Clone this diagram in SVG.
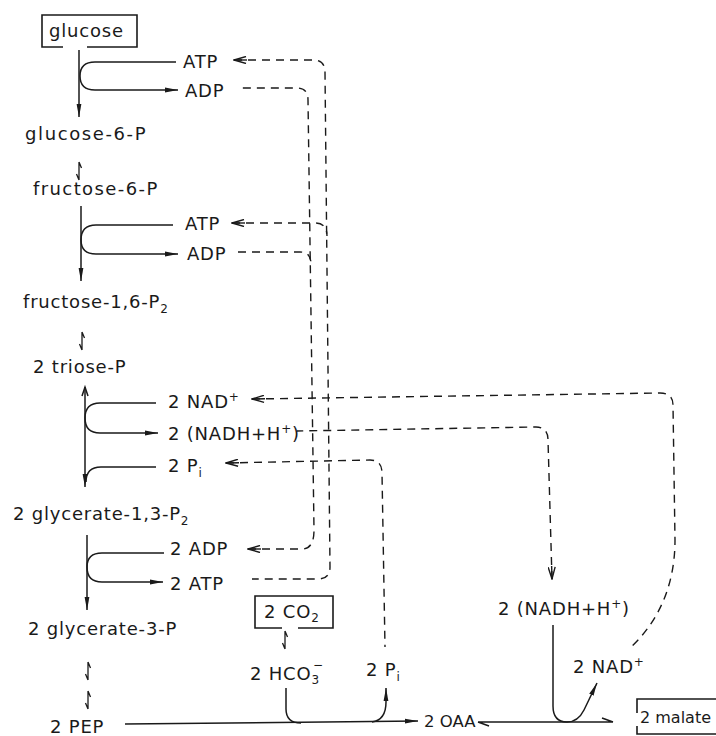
<svg xmlns="http://www.w3.org/2000/svg" width="716" height="736" viewBox="0 0 716 736">
<style>
text{font-family:"DejaVu Sans","Liberation Sans",sans-serif;font-size:18px;fill:#1a1a1a;letter-spacing:0.8px}
.s{fill:none;stroke:#1a1a1a;stroke-width:1.5}
.d{fill:none;stroke:#1a1a1a;stroke-width:1.4;stroke-dasharray:8 6}
.box{fill:none;stroke:#1a1a1a;stroke-width:1.6}
.sub{font-size:12px}
</style>
<defs>
<marker id="ah" viewBox="0 0 13 6" refX="13" refY="3" markerWidth="13" markerHeight="6" markerUnits="userSpaceOnUse" orient="auto"><path d="M0,0.6 L13,3 L0,5.4 z" fill="#1a1a1a"/></marker>
<marker id="oh" viewBox="0 0 14 8" refX="13" refY="4" markerWidth="14" markerHeight="8" markerUnits="userSpaceOnUse" orient="auto-start-reverse"><path d="M1,0.5 L13,4 L1,7.5" fill="none" stroke="#1a1a1a" stroke-width="1.4"/><path d="M13,4 H0" stroke="#1a1a1a" stroke-width="1.4"/></marker>
<path id="eq" d="M0,-9 V9 M0,9 L-2.5,3 M0,-9 L2.5,-3" fill="none" stroke="#1a1a1a" stroke-width="1.3"/>
</defs>

<g id="connectors">
  <!-- glucose -> glucose-6-P -->
  <path class="s" d="M79,50 V117" marker-end="url(#ah)"/>
  <path class="s" d="M176,62 H95 Q80,62 80,76 Q80,90 95,90 H178" marker-end="url(#ah)"/>
  <use href="#eq" x="79" y="171"/>
  <!-- fructose-6-P -> fructose-1,6-P2 -->
  <path class="s" d="M81,206 V281" marker-end="url(#ah)"/>
  <path class="s" d="M173,225 H96 Q81,225 81,240 Q81,254 96,254 H178" marker-end="url(#ah)"/>
  <use href="#eq" x="82" y="341"/>
  <!-- triose-P <-> glycerate-1,3-P2 -->
  <path class="s" d="M85,387 V487" marker-end="url(#ah)"/>
  <path class="s" d="M82,396 L85,387 L88,396"/>
  <path class="s" d="M156,403 H100 Q85,403 85,418 Q85,433 100,433 H158" marker-end="url(#ah)"/>
  <path class="s" d="M156,467 H101 Q86,467 86,482"/>
  <!-- glycerate-1,3-P2 -> glycerate-3-P -->
  <path class="s" d="M87,535 V610" marker-end="url(#ah)"/>
  <path class="s" d="M164,553 H102 Q87,553 87,567 Q87,582 102,582 H163" marker-end="url(#ah)"/>
  <use href="#eq" x="88" y="671"/>
  <use href="#eq" x="88" y="700"/>
  <use href="#eq" x="285" y="640"/>
  <!-- PEP -> OAA -->
  <path class="s" d="M125,724 L418,721" marker-end="url(#ah)"/>
  <path class="s" d="M286,688 V709 Q286,723 301,723"/>
  <path class="s" d="M372,722 Q386,720 386,702 V688" marker-end="url(#ah)"/>
  <!-- OAA <-> malate -->
  <path class="s" d="M478,722 H613 M478,722 L489,726 M613,722 L602,718"/>
  <path class="s" d="M553,625 V706 Q553,722 567,722 Q578,722 584,710 L597,683" marker-end="url(#ah)"/>

  <!-- dashed: 2 ATP -> ATP (top) -->
  <path class="d" d="M234,60 H313 Q325,60 325,72 L330,567 Q330,579 318,579 H252" marker-start="url(#oh)"/>
  <path class="d" d="M232,223 H315 Q327,223 327,236" marker-start="url(#oh)"/>
  <!-- dashed: ADP -> 2 ADP -->
  <path class="d" d="M248,549 H302 Q314,549 314,530 L308,100 Q308,88 297,88 H237" marker-start="url(#oh)"/>
  <path class="d" d="M238,252 H300 Q311,252 311,264"/>
  <!-- dashed: NAD+ -->
  <path class="d" d="M252,399 L660,393 Q673,393 673,405 L675,540 C675,590 655,625 630,648" marker-start="url(#oh)"/>
  <!-- dashed: NADH -->
  <path class="d" d="M552,579 L548,440 Q548,427 536,427 L297,431" marker-start="url(#oh)"/>
  <!-- dashed: Pi -->
  <path class="d" d="M226,463 L370,460 Q382,460 382,473 L385,647" marker-start="url(#oh)"/>
</g>

<g id="glucose">
  <path class="box" d="M63,47 H42 V15 H137 V47 H87"/>
  <text x="49" y="37">glucose</text>
</g>
<g id="glucose-6-P"><text x="25" y="140" style="letter-spacing:1.6px">glucose-6-P</text></g>
<g id="fructose-6-P"><text x="33" y="195" style="letter-spacing:1.4px">fructose-6-P</text></g>
<g id="fructose-1,6-P2"><text x="23" y="308">fructose-1,6-P<tspan class="sub" dy="5">2</tspan></text></g>
<g id="triose-P"><text x="33" y="373">2 triose-P</text></g>
<g id="glycerate-1,3-P2"><text x="13" y="520">2 glycerate-1,3-P<tspan class="sub" dy="5">2</tspan></text></g>
<g id="glycerate-3-P"><text x="28" y="635">2 glycerate-3-P</text></g>
<g id="PEP"><text x="50" y="733">2 PEP</text></g>

<g id="ATP1"><text x="183" y="68">ATP</text></g>
<g id="ADP1"><text x="185" y="97">ADP</text></g>
<g id="ATP2"><text x="185" y="230">ATP</text></g>
<g id="ADP2"><text x="187" y="260">ADP</text></g>
<g id="NAD1"><text x="168" y="408">2 NAD<tspan class="sub" dy="-7">+</tspan></text></g>
<g id="NADH1"><text x="168" y="440">2 (NADH+H<tspan class="sub" dy="-7">+</tspan><tspan dy="7">)</tspan></text></g>
<g id="Pi1"><text x="168" y="472">2 P<tspan class="sub" dy="5">i</tspan></text></g>
<g id="ADP3"><text x="170" y="555">2 ADP</text></g>
<g id="ATP3"><text x="170" y="590">2 ATP</text></g>

<g id="CO2">
  <path class="box" d="M282,628 H255 V596 H333 V628 H298"/>
  <text x="264" y="618">2 CO<tspan class="sub" dy="4">2</tspan></text>
</g>
<g id="HCO3"><text x="250" y="680">2 HCO<tspan class="sub" dy="4">3</tspan><tspan class="sub" dx="-7" dy="-15">−</tspan></text></g>
<g id="Pi2"><text x="366" y="676">2 P<tspan class="sub" dy="5">i</tspan></text></g>
<g id="OAA"><text x="424" y="727" style="font-size:16.5px;letter-spacing:0">2 OAA</text></g>
<g id="NADH2"><text x="498" y="615">2 (NADH+H<tspan class="sub" dy="-7">+</tspan><tspan dy="7">)</tspan></text></g>
<g id="NAD2"><text x="573" y="673">2 NAD<tspan class="sub" dy="-7">+</tspan></text></g>
<g id="malate">
  <path class="box" d="M637,713 V699 H716 M637,726 V734 H716"/>
  <text x="640" y="723" style="font-size:16px;letter-spacing:0">2 malate</text>
</g>
</svg>
